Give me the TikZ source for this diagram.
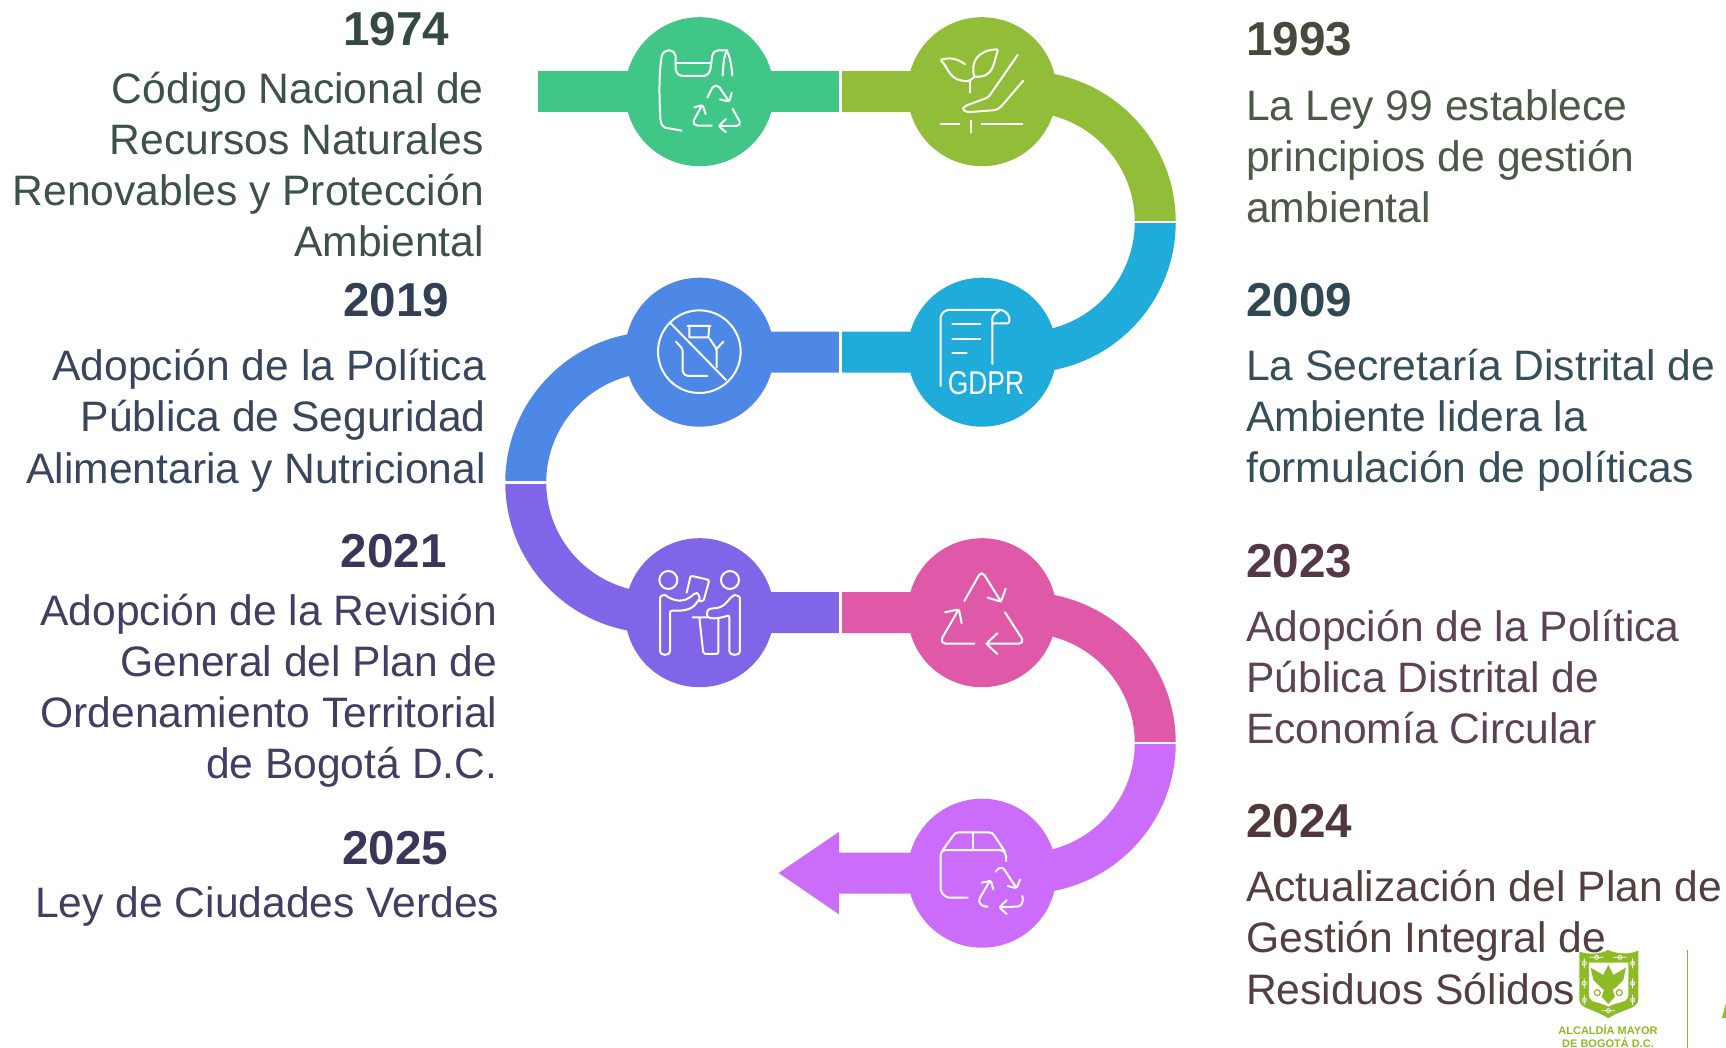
\documentclass[tikz,border=0pt]{standalone}
\usepackage{fontspec}
\setmainfont{Liberation Sans}
\usetikzlibrary{arrows.meta}
\definecolor{cgreen}{HTML}{40C686}
\definecolor{colive}{HTML}{92BD39}
\definecolor{cblue}{HTML}{1FACDB}
\definecolor{cperi}{HTML}{4E88E6}
\definecolor{cpurple}{HTML}{8165E8}
\definecolor{cpink}{HTML}{DF59A8}
\definecolor{cviolet}{HTML}{CC6CFB}
\definecolor{clogo}{HTML}{8DBB25}
\newcommand{\topline}{\rule{0pt}{45pt}}
\tikzset{
  band/.style={line width=41pt},
  disc/.style={circle,minimum size=149pt,inner sep=0pt},
  gapline/.style={white,line width=2.4pt},
  icon/.style={white,line width=2pt,line join=round,line cap=round,rounded corners=2pt},
  yearl/.style={anchor=base east,inner sep=0pt,font=\fontsize{47.6}{51}\selectfont\bfseries},
  yearr/.style={anchor=base west,inner sep=0pt,font=\fontsize{47.6}{51}\selectfont\bfseries},
  bodyl/.style={anchor=north east,inner sep=0pt,align=right,font=\fontsize{42.6}{51.2}\selectfont},
  bodyr/.style={anchor=north west,inner sep=0pt,align=left,font=\fontsize{42.6}{51.2}\selectfont},
  logotext/.style={inner sep=0pt,anchor=base,text=clogo,font=\fontsize{11}{13}\selectfont\bfseries}
}
\begin{document}
\begin{tikzpicture}[x=1pt,y=-1pt]
  \useasboundingbox (0,0) rectangle (1726,1048);
  \coordinate (start) at (538,91.7);
  \coordinate (tip) at (778,873);

  \node[disc] (plastic) at (699.5,91.7) {};
  \node[disc] (plant) at (982,91.7) {};
  \node[disc] (gdpr) at (982,352.2) {};
  \node[disc] (milk) at (699.5,352.2) {};
  \node[disc] (people) at (699.5,612.7) {};
  \node[disc] (recycle) at (982,612.7) {};
  \node[disc] (box) at (982,873.2) {};

  % the road
  \draw[band,cgreen] (start) -- (plastic.center) -- (840.5,91.7);
  \draw[band,colive] (840.5,91.7) -- (plant.center) -- (1025,91.7) arc (-90:0:130.25);
  \draw[band,cblue] (1155.25,222) arc (0:90:130.25) -- (gdpr.center) -- (840.5,352.2);
  \draw[band,cperi] (840.5,352.2) -- (milk.center) -- (656,352.2) arc (-90:-180:130.25);
  \draw[band,cpurple] (525.75,482.45) arc (180:90:130.25) -- (people.center) -- (840.5,612.7);
  \draw[band,cpink] (840.5,612.7) -- (recycle.center) -- (1025,612.7) arc (-90:0:130.25);
  \draw[band,cviolet,-{Triangle[length=61pt,width=78pt]}] (1155.25,742.95) arc (0:90:130.25) -- (box.center) -- (tip);

  \fill[cgreen] (plastic) circle (74.5);
  \fill[colive] (plant) circle (74.5);
  \fill[cblue] (gdpr) circle (74.5);
  \fill[cperi] (milk) circle (74.5);
  \fill[cpurple] (people) circle (74.5);
  \fill[cpink] (recycle) circle (74.5);
  \fill[cviolet] (box) circle (74.5);

  \foreach \x/\y in {840.5/91.7,840.5/352.2,840.5/612.7} {
    \draw[gapline] (\x,\y-21.5) -- (\x,\y+21.5);
  }
  \foreach \x/\y in {1155.25/222,525.75/482.45,1155.25/742.95} {
    \draw[gapline] (\x-21.5,\y) -- (\x+21.5,\y);
  }

  % icons
  \begin{scope}[shift={(630,25)},scale=0.3333,icon]
    \draw (155,317) -- (100,307) -- (92,292) .. controls (86,200) and (88,130) .. (97,85) -- (110,76) -- (125,76) -- (137,88) -- (137,140) -- (150,153) -- (228,153) -- (240,140) -- (248,85) -- (258,76) -- (293,76);
    \draw (137,113) -- (243,113);
    \draw (278,152) .. controls (280,120) and (282,95) .. (290,78) .. controls (300,95) and (305,125) .. (307,152);
    \draw (232,218) -- (250,182) -- (265,182) -- (296,228);
    \draw (305,203) -- (298,230) -- (270,223);
    \draw (308,252) -- (332,295) -- (325,303) -- (268,303);
    \draw (288,282) -- (266,303) -- (288,322);
    \draw (245,302) -- (197,302) -- (188,292) -- (215,243);
    \draw (193,247) -- (218,240) -- (227,267);
  \end{scope}
  \begin{scope}[shift={(915,25)},scale=0.3333,icon]
    \draw (150,118) .. controls (125,98) and (100,98) .. (75,105) .. controls (100,125) and (100,170) .. (165,168) -- (178,155);
    \draw (178,155) .. controls (165,110) and (190,75) .. (250,73) .. controls (235,110) and (240,160) .. (178,155);
    \draw (165,203) -- (165,170);
    \draw (308,90) -- (220,217) -- (150,243) -- (142,252) -- (155,262) -- (245,255) -- (258,245) -- (325,167);
    \draw (77,297) -- (133,297) (167,287) -- (167,323) (200,297) -- (322,297);
  \end{scope}
  \begin{scope}[shift={(915,290)},scale=0.3333,icon]
    \draw (77,288) -- (77,75) -- (92,60) -- (265,60) -- (283,78) -- (283,100) -- (232,100);
    \draw (232,222) -- (232,78) -- (255,60);
    \draw (112,103) -- (196,103) (112,147) -- (196,147) (112,190) -- (155,190);
  \end{scope}
  \node[inner sep=0pt,text=white,xscale=0.8,font=\fontsize{33}{33}\selectfont] (gdprtext) at (986,383.5) {GDPR};
  \begin{scope}[shift={(620,280)},scale=0.3333,icon]
    \draw (238,215) circle (124);
    \draw (152,130) -- (318,300);
    \draw[sharp corners] (203,138) -- (272,138) (208,138) -- (208,172) -- (265,172) -- (268,138);
    \draw (268,175) -- (290,207) -- (290,262) (290,207) -- (310,185);
    \draw (168,185) -- (188,207) -- (188,278) -- (198,288) -- (262,288);
  \end{scope}
  \begin{scope}[shift={(620,540)},scale=0.3333,icon]
    \draw (145,120) circle (27) (330,120) circle (27);
    \draw (135,165) .. controls (155,180) and (190,195) .. (225,158) .. controls (235,160) and (240,175) .. (235,180) .. controls (215,215) and (180,212) .. (150,212) -- (150,328) .. controls (150,348) and (120,348) .. (120,328) -- (120,180) .. controls (120,170) and (125,165) .. (135,165);
    \draw (345,165) .. controls (325,170) and (320,205) .. (275,205) .. controls (258,210) and (258,232) .. (275,235) .. controls (295,235) and (310,232) .. (328,225) -- (328,328) .. controls (328,348) and (360,348) .. (360,328) -- (360,180) .. controls (360,170) and (352,165) .. (345,165);
    \draw (200,158) -- (212,107) -- (268,120) -- (250,185) -- (238,183);
    \draw (218,232) -- (262,232) (238,232) -- (250,342) -- (295,342) -- (295,235);
  \end{scope}
  \begin{scope}[shift={(915,550)},scale=0.3333,icon]
    \draw (148,153) -- (195,70) -- (205,70) -- (258,155);
    \draw (272,116) -- (258,155) -- (218,143);
    \draw (270,187) -- (325,272) -- (318,281) -- (214,281);
    \draw (247,250) -- (214,281) -- (247,312);
    \draw (178,281) -- (85,281) -- (78,270) -- (130,180);
    \draw (90,187) -- (132,178) -- (140,220);
  \end{scope}
  \begin{scope}[shift={(915,810)},scale=0.3333,icon]
    \draw (158,263) -- (95,263) -- (77,245) -- (77,128) -- (85,120) -- (262,120) -- (273,132) -- (273,153);
    \draw (82,122) -- (118,72) -- (125,67) -- (228,67) -- (235,72) -- (270,125);
    \draw (175,67) -- (175,120);
    \draw (242,185) .. controls (250,170) and (265,172) .. (272,185) -- (303,232);
    \draw (315,208) -- (305,235) -- (278,228);
    \draw (322,258) .. controls (328,280) and (315,290) .. (300,290) -- (255,292);
    \draw (275,270) -- (253,292) -- (275,312);
    \draw (218,290) .. controls (195,290) and (188,275) .. (198,258) -- (225,212);
    \draw (200,218) -- (228,212) -- (235,238);
  \end{scope}

  % left texts
  \node[yearl,text={rgb,255:red,52;green,74;blue,64}] (y1974) at (449.5,46) {1974};
  \node[bodyl,text={rgb,255:red,60;green,82;blue,70}] (t1974) at (484,58) {\topline Código Nacional de\\Recursos Naturales\\Renovables y Protección\\Ambiental};
  \node[yearl,text={rgb,255:red,50;green,64;blue,84}] (y2019) at (449.5,317) {2019};
  \node[bodyl,text={rgb,255:red,56;green,70;blue,92}] (t2019) at (486,335.5) {\topline Adopción de la Política\\Pública de Seguridad\\Alimentaria y Nutricional};
  \node[yearl,text={rgb,255:red,58;green,54;blue,90}] (y2021) at (447,567) {2021};
  \node[bodyl,text={rgb,255:red,66;green,62;blue,98}] (t2021) at (497.5,580) {\topline Adopción de la Revisión\\General del Plan de\\Ordenamiento Territorial\\de Bogotá D.C.};
  \node[yearl,text={rgb,255:red,58;green,54;blue,90}] (y2025) at (448.5,864) {2025};
  \node[bodyl,text={rgb,255:red,66;green,62;blue,98}] (t2025) at (499.5,872) {\topline Ley de Ciudades Verdes};

  % right texts
  \node[yearr,text={rgb,255:red,70;green,74;blue,60}] (y1993) at (1246,56) {1993};
  \node[bodyr,text={rgb,255:red,76;green,88;blue,72}] (t1993) at (1246,75) {\topline La Ley 99 establece\\principios de gestión\\ambiental};
  \node[yearr,text={rgb,255:red,48;green,72;blue,82}] (y2009) at (1246,317) {2009};
  \node[bodyr,text={rgb,255:red,54;green,78;blue,88}] (t2009) at (1246,335) {\topline La Secretaría Distrital de\\Ambiente lidera la\\formulación de políticas};
  \node[yearr,text={rgb,255:red,85;green,56;blue,72}] (y2023) at (1246,577) {2023};
  \node[bodyr,text={rgb,255:red,92;green,66;blue,84}] (t2023) at (1246,596) {\topline Adopción de la Política\\Pública Distrital de\\Economía Circular};
  \node[yearr,text={rgb,255:red,80;green,56;blue,58}] (y2024) at (1246,837) {2024};
  \node[bodyr,text={rgb,255:red,84;green,62;blue,64}] (t2024) at (1246,856.5) {\topline Actualización del Plan de\\Gestión Integral de\\Residuos Sólidos};

  % logo
  \begin{scope}[shift={(1240,800)},scale=0.3333]
    \fill[clogo] (1018,455) .. controls (1050,465) and (1080,462) .. (1105,450) .. controls (1130,462) and (1165,465) .. (1195,452) -- (1195,600) .. controls (1192,628) and (1150,625) .. (1105,655) .. controls (1060,625) and (1020,628) .. (1018,600) -- cycle;
    \fill[white] (1047,488) -- (1165,488) -- (1165,590) .. controls (1160,610) and (1130,605) .. (1105,620) .. controls (1080,605) and (1052,610) .. (1047,590) -- cycle;
    \fill[clogo] (1105,495) -- (1113,510) -- (1120,525) -- (1158,503) -- (1150,540) -- (1130,560) -- (1118,570) -- (1125,590) -- (1105,612) -- (1085,590) -- (1092,570) -- (1080,560) -- (1060,540) -- (1052,503) -- (1090,525) -- (1097,510) -- cycle;
    \draw[clogo,line width=1.2pt] (1072,578) circle (9) (1138,578) circle (9);
    \foreach \x in {1033,1178} {
      \foreach \y in {490,550,600} {
        \draw[white,line width=0.8pt] (\x,\y-15) -- (\x,\y+15) (\x,\y) circle (6);
      }
    }
    \foreach \x in {1070,1140} {
      \draw[white,line width=0.8pt] (\x-20,472) -- (\x+20,472) (\x,472) circle (6);
    }
    \draw[white,line width=0.8pt] (1085,632) -- (1125,632) (1105,632) circle (6);
  \end{scope}
  \node[logotext] (alcaldia) at (1608,1034) {ALCALDÍA MAYOR};
  \node[logotext] (bogota) at (1608,1047) {DE BOGOTÁ D.C.};
  \draw[clogo,line width=1.5pt] (1687.7,950) -- (1687.7,1048);
  \fill[clogo] (1722,1018) -- (1726,1003) -- (1726,1018) -- cycle;
\end{tikzpicture}
\end{document}
